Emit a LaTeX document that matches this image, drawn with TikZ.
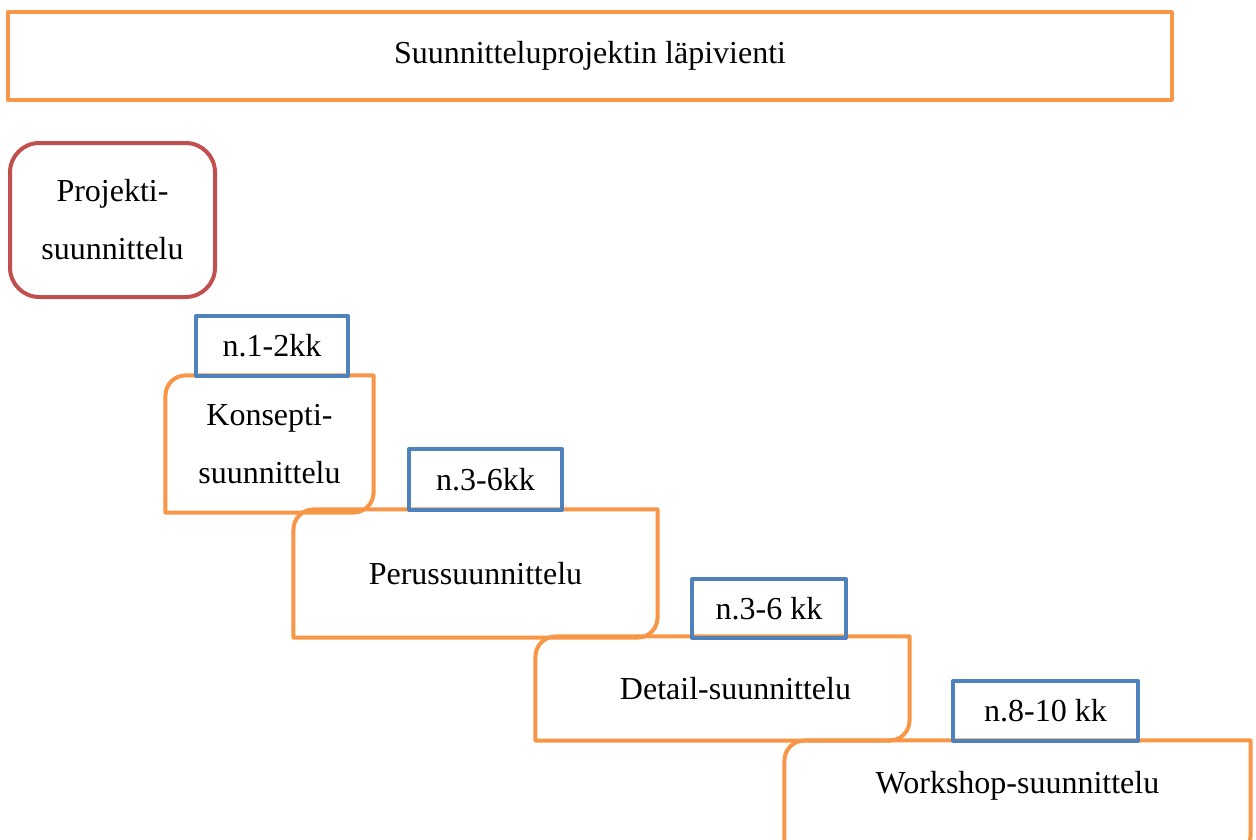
\documentclass[tikz,border=0pt]{standalone}
\usepackage{fontspec}
\setmainfont{Liberation Serif}
\definecolor{phaseorange}{HTML}{F79646}
\definecolor{timeblue}{HTML}{4F81BD}
\definecolor{planred}{HTML}{C0504D}
\tikzset{
	thickline/.style={line width=1.5pt, line join=round},
	boxtext/.style={rectangle, inner sep=0pt, align=center, font=\fontsize{12}{21.75}\selectfont},
	timebox/.style={boxtext, draw=timeblue, thickline},
}
\begin{document}
\begin{tikzpicture}[x=0.375pt, y={(0pt,-0.375pt)}]
		\def\px{0.375pt}	% one pixel of the sketch
		\def\rr{7.5pt}		% corner radius of the phase boxes
		% phase box: name, options, left, top, right, bottom, text
		\def\stage#1#2#3#4#5#6#7{
			\node [boxtext, minimum width={(#5-#3)*\px}, minimum height={(#6-#4)*\px}, #2] (#1) at ({(#3+#5)/2},{(#4+#6)/2}) {#7};
			\draw [thickline, draw=phaseorange] (#1.west) [rounded corners=\rr] -- (#1.north west) -- (#1.north) [sharp corners] -- (#1.north east) -- (#1.east) [rounded corners=\rr] -- (#1.south east) -- (#1.south) [sharp corners] -- (#1.south west) -- cycle;
		}
		\useasboundingbox (0,0) rectangle (1256,839);
		\clip (0,0) rectangle (1256,839);
		% heading
			\node [boxtext, draw=phaseorange, thickline, minimum width={1164*\px}, minimum height={88*\px}] (head) at (590,56) {Suunnitteluprojektin läpivienti};
		% project planning
			\node [boxtext, draw=planred, thickline, rounded corners=11pt, minimum width={205*\px}, minimum height={154*\px}] (proj) at (112.5,220) {Projekti-\\suunnittelu};
		% phases
			\stage{konsepti}{}{166}{376}{373}{512}{Konsepti-\\suunnittelu}
			\stage{perus}{}{294}{510}{657}{637}{Perussuunnittelu}
			\stage{detail}{}{536}{637}{909}{740}{\hspace*{9.75pt}Detail-suunnittelu}
			\stage{workshop}{text depth=11.6pt}{785}{741}{1250}{855}{Workshop-suunnittelu}
		% durations
			\foreach \name/\xa/\ya/\xb/\yb/\txt in {t1/196/316/348/376/n.1-2kk, t2/409/449/562/510/n.3-6kk, t3/692/579/846/638/n.3-6 kk, t4/953/681/1138/741/n.8-10 kk}
				\node [timebox, minimum width={(\xb-\xa)*\px}, minimum height={(\yb-\ya)*\px}] (\name) at ({(\xa+\xb)/2},{(\ya+\yb)/2}) {\txt};
	\end{tikzpicture}
\end{document}
